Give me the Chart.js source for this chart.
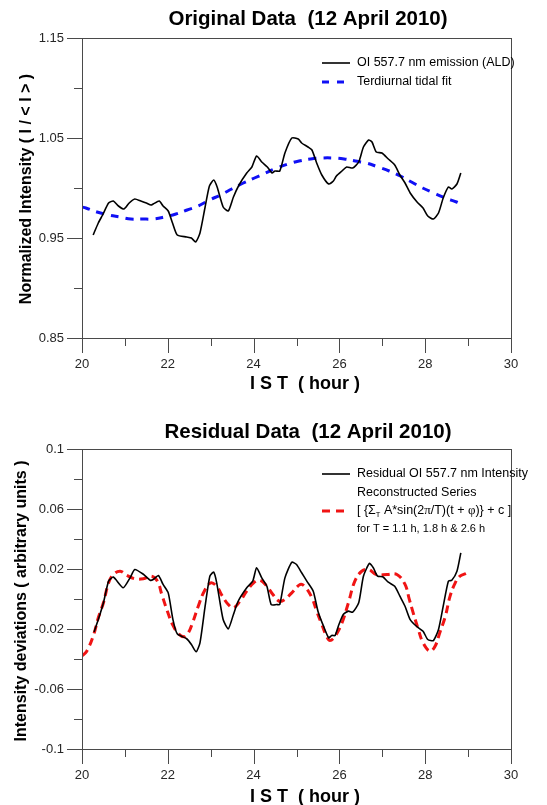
<!DOCTYPE html>
<html>
<head>
<meta charset="utf-8">
<script src="https://cdn.jsdelivr.net/npm/chart.js@4.4.1/dist/chart.umd.min.js"></script>
<style>
  html, body { margin: 0; padding: 0; background: #ffffff; }
  #wrap { position: relative; width: 547px; height: 805px; overflow: hidden; }
  canvas { position: absolute; left: 0; }
</style>
</head>
<body>
<div id="wrap">
  <canvas id="origChart" width="547" height="400" style="top:0px"></canvas>
  <canvas id="resChart" width="547" height="405" style="top:400px"></canvas>
</div>
<script>
// ---- Original OI 557.7 nm intensity (normalized), 12 April 2010 ----
const origHour = [20.26, 20.38, 20.48, 20.62, 20.73, 20.85, 20.98, 21.10, 21.23, 21.37, 21.50, 21.61, 21.66,
  21.80, 21.89, 22.01, 22.11, 22.22, 22.44, 22.55, 22.65, 22.75, 22.87, 22.97, 23.07, 23.15, 23.29, 23.41,
  23.53, 23.66, 23.84, 23.96, 24.07, 24.19, 24.32, 24.43, 24.50, 24.61, 24.73, 24.89, 25.04, 25.12, 25.27,
  25.36, 25.47, 25.59, 25.75, 25.86, 25.93, 26.06, 26.17, 26.31, 26.45, 26.56, 26.68, 26.76, 26.86, 26.99,
  27.14, 27.29, 27.41, 27.53, 27.65, 27.81, 27.95, 28.06, 28.19, 28.31, 28.42, 28.54, 28.62, 28.74, 28.83];
const origIntensity = [0.953, 0.965, 0.973, 0.985, 0.987, 0.982, 0.979, 0.985, 0.989, 0.987, 0.985, 0.983, 0.984,
  0.987, 0.982, 0.977, 0.965, 0.953, 0.951, 0.950, 0.946, 0.955, 0.981, 1.002, 1.008, 1.001, 0.981, 0.977,
  0.991, 1.003, 1.015, 1.021, 1.032, 1.026, 1.021, 1.015, 1.017, 1.017, 1.035, 1.050, 1.049, 1.045, 1.041,
  1.038, 1.025, 1.013, 1.004, 1.007, 1.012, 1.017, 1.021, 1.020, 1.026, 1.041, 1.048, 1.046, 1.036, 1.035,
  1.029, 1.023, 1.013, 1.005, 0.995, 0.986, 0.980, 0.972, 0.969, 0.975, 0.990, 1.001, 0.999, 1.004, 1.015];

// ---- Terdiurnal tidal fit ----
const fitHour = [20.0, 20.09, 20.35, 20.62, 20.88, 21.14, 21.40, 21.66, 21.92, 22.19, 22.45, 22.71, 22.97,
  23.23, 23.49, 23.76, 24.02, 24.28, 24.54, 24.80, 25.06, 25.33, 25.59, 25.85, 26.11, 26.37, 26.63, 26.90,
  27.16, 27.42, 27.68, 27.94, 28.20, 28.47, 28.73, 28.83];
const fitIntensity = [0.981, 0.980, 0.976, 0.973, 0.971, 0.969, 0.969, 0.969, 0.971, 0.974, 0.978, 0.982, 0.988,
  0.993, 0.999, 1.005, 1.010, 1.015, 1.020, 1.024, 1.027, 1.029, 1.030, 1.030, 1.029, 1.027, 1.025, 1.021,
  1.017, 1.012, 1.006, 1.000, 0.995, 0.990, 0.986, 0.984];

// ---- Residual intensity ----
const resHour = [20.28, 20.38, 20.50, 20.62, 20.73, 20.96, 21.12, 21.23, 21.43, 21.59, 21.66, 21.78, 21.89,
  22.01, 22.12, 22.22, 22.44, 22.55, 22.66, 22.75, 22.87, 22.98, 23.07, 23.14, 23.29, 23.41, 23.53, 23.64,
  23.84, 23.98, 24.07, 24.19, 24.31, 24.41, 24.54, 24.61, 24.73, 24.89, 25.00, 25.12, 25.24, 25.39, 25.50,
  25.63, 25.75, 25.82, 25.90, 25.98, 26.09, 26.21, 26.31, 26.45, 26.56, 26.70, 26.79, 26.89, 27.01, 27.14,
  27.29, 27.41, 27.53, 27.65, 27.81, 27.95, 28.06, 28.19, 28.31, 28.42, 28.54, 28.62, 28.74, 28.83];
const resValue = [-0.022, -0.0137, -0.0025, 0.0119, 0.0146, 0.0075, 0.0141, 0.0197, 0.0165, 0.0125, 0.013, 0.0157,
  0.0097, 0.0041, -0.0137, -0.0232, -0.0265, -0.0303, -0.0352, -0.0292, -0.0048, 0.0152, 0.0179, 0.0108,
  -0.0137, -0.0199, -0.0103, -0.0015, 0.0075, 0.0119, 0.0208, 0.0141, 0.0085, -0.0037, -0.0037, -0.0037,
  0.0141, 0.0245, 0.023, 0.0175, 0.0119, 0.0052, -0.0081, -0.0181, -0.0259, -0.0243, -0.0243, -0.0177,
  -0.0103, -0.0081, -0.0088, -0.0025, 0.0152, 0.0237, 0.0208, 0.0152, 0.0148, 0.0112, 0.0085, 0.0019,
  -0.0048, -0.0137, -0.0185, -0.0215, -0.027, -0.0277, -0.0203, -0.0048, 0.0119, 0.0125, 0.0185, 0.0308];

// ---- Reconstructed series (T = 1.1 h, 1.8 h & 2.6 h) ----
const reconHour = [20.0, 20.11, 20.26, 20.38, 20.50, 20.62, 20.73, 20.89, 21.05, 21.23, 21.43, 21.62, 21.76,
  21.86, 21.99, 22.11, 22.25, 22.39, 22.48, 22.59, 22.71, 22.85, 23.00, 23.14, 23.25, 23.41, 23.53, 23.68,
  23.84, 24.00, 24.15, 24.31, 24.45, 24.60, 24.73, 24.89, 25.09, 25.20, 25.36, 25.47, 25.59, 25.70, 25.78,
  25.90, 26.06, 26.21, 26.36, 26.52, 26.68, 26.86, 27.11, 27.34, 27.53, 27.63, 27.72, 27.84, 27.95, 28.11,
  28.23, 28.34, 28.47, 28.58, 28.70, 28.81, 28.95];
const reconValue = [-0.038, -0.0348, -0.0248, -0.0125, -0.0025, 0.0108, 0.0163, 0.0185, 0.0157, 0.0135, 0.0135,
  0.0152, 0.0119, 0.003, -0.0081, -0.017, -0.0232, -0.0252, -0.0225, -0.0148, -0.0048, 0.0052, 0.0108,
  0.0085, 0.003, -0.0037, -0.0059, -0.0015, 0.0052, 0.0108, 0.0125, 0.0085, 0.003, -0.0015, -0.0003,
  0.0041, 0.0097, 0.0081, 0.0008, -0.0081, -0.017, -0.0248, -0.0277, -0.0248, -0.0159, -0.0025, 0.0119,
  0.0185, 0.0197, 0.0163, 0.0163, 0.0163, 0.0097, -0.0003, -0.0092, -0.0203, -0.0292, -0.0348, -0.0315,
  -0.0225, -0.0115, 0.0019, 0.0108, 0.0152, 0.017];

// ---- Axis ticks ----
const hourTicks = [20, 22, 24, 26, 28, 30];
const origTicks = ['0.85', '0.95', '1.05', '1.15'];
const resTicks = ['-0.1', '-0.06', '-0.02', '0.02', '0.06', '0.1'];

const FONT = '"Liberation Sans", Arial, Helvetica, sans-serif';
const AXIS_COLOR = '#4a4a4a';
const LABEL_COLOR = '#262626';

const toPoints = (xs, ys) => xs.map((x, i) => ({ x: x, y: ys[i] }));

function xAxis(height) {
  return {
    type: 'linear', min: 20, max: 30,
    afterFit(s) { s.height = height; },
    grid: { display: false, drawTicks: false },
    border: { display: false },
    ticks: {
      stepSize: 1, autoSkip: false, maxRotation: 0, padding: 19,
      color: LABEL_COLOR, font: { family: FONT, size: 13 },
      callback: v => (hourTicks.includes(v) ? String(v) : '')
    }
  };
}

function yAxis(min, max, step, labels) {
  return {
    type: 'linear', min: min, max: max,
    afterFit(s) { s.width = 82; },
    grid: { display: false, drawTicks: false },
    border: { display: false },
    ticks: {
      stepSize: step, autoSkip: false, padding: 18,
      color: LABEL_COLOR, font: { family: FONT, size: 13 },
      callback: v => {
        const txt = labels.find(l => Math.abs(parseFloat(l) - v) < 1e-6);
        return txt === undefined ? '' : txt;
      }
    }
  };
}

// Frame, tick marks, titles and legend drawn on top of each panel
function panelDecor(cfg) {
  return {
    id: 'panelDecor',
    afterDraw(chart) {
      const { ctx, chartArea: a } = chart;
      const xs = chart.scales.x, ys = chart.scales.y;
      ctx.save();
      ctx.strokeStyle = AXIS_COLOR;
      ctx.lineWidth = 1;
      ctx.setLineDash([]);
      ctx.strokeRect(Math.round(a.left) + 0.5, Math.round(a.top) + 0.5,
        Math.round(a.right - a.left), Math.round(a.bottom - a.top));

      xs.ticks.forEach(t => {
        const px = Math.round(xs.getPixelForValue(t.value)) + 0.5;
        const len = hourTicks.includes(t.value) ? 15 : 8;
        ctx.beginPath();
        ctx.moveTo(px, a.bottom);
        ctx.lineTo(px, a.bottom + len);
        ctx.stroke();
      });
      ys.ticks.forEach(t => {
        const py = Math.round(ys.getPixelForValue(t.value)) + 0.5;
        const len = t.label !== '' ? 15 : 8;
        ctx.beginPath();
        ctx.moveTo(a.left - len, py);
        ctx.lineTo(a.left, py);
        ctx.stroke();
      });

      ctx.fillStyle = '#000';
      ctx.textAlign = 'center';
      ctx.textBaseline = 'middle';
      ctx.font = 'bold 20.5px ' + FONT;
      ctx.fillText(cfg.title, 308, cfg.titleY);
      ctx.font = 'bold 18px ' + FONT;
      ctx.fillText('I S T  ( hour )', 305, cfg.xTitleY);

      ctx.save();
      ctx.translate(cfg.yTitleX, (a.top + a.bottom) / 2 + cfg.yTitleShift);
      ctx.rotate(-Math.PI / 2);
      ctx.font = 'bold 16px ' + FONT;
      ctx.fillText(cfg.yTitle, 0, 0);
      ctx.restore();

      // legend
      ctx.textAlign = 'left';
      cfg.legend.forEach(item => {
        if (item.sample) {
          ctx.strokeStyle = item.sample.color;
          ctx.lineWidth = item.sample.width;
          ctx.setLineDash(item.sample.dash);
          ctx.beginPath();
          ctx.moveTo(322, item.y);
          ctx.lineTo(350, item.y);
          ctx.stroke();
          ctx.setLineDash([]);
        }
        let x = 357;
        item.parts.forEach(p => {
          ctx.font = p.size + 'px ' + (p.serif ? '"Liberation Serif", serif' : FONT);
          ctx.fillStyle = '#000';
          ctx.fillText(p.text, x, item.y + (p.dy || 0));
          x += ctx.measureText(p.text).width;
        });
      });
      ctx.restore();
    }
  };
}

new Chart(document.getElementById('origChart'), {
  type: 'line',
  data: {
    datasets: [
      {
        label: 'OI 557.7 nm emission (ALD)',
        data: toPoints(origHour, origIntensity),
        borderColor: '#000000', borderWidth: 1.6, pointRadius: 0, tension: 0.2, fill: false
      },
      {
        label: 'Terdiurnal tidal fit',
        data: toPoints(fitHour, fitIntensity),
        borderColor: '#1010f5', borderWidth: 3, borderDash: [8, 7], pointRadius: 0, tension: 0.4, fill: false
      }
    ]
  },
  options: {
    responsive: false, animation: false, devicePixelRatio: 1,
    layout: { padding: { top: 38, right: 36, left: 0, bottom: 0 } },
    plugins: { legend: { display: false }, tooltip: { enabled: false }, title: { display: false } },
    scales: { x: xAxis(62), y: yAxis(0.85, 1.15, 0.05, origTicks) }
  },
  plugins: [panelDecor({
    title: 'Original Data  (12 April 2010)', titleY: 19, xTitleY: 384,
    yTitle: 'Normalized Intensity ( I / < I > )', yTitleX: 27, yTitleShift: 1,
    legend: [
      { y: 63, sample: { color: '#000', width: 1.6, dash: [] }, parts: [{ text: 'OI 557.7 nm emission (ALD)', size: 12.5 }] },
      { y: 82, sample: { color: '#1010f5', width: 3, dash: [7, 8] }, parts: [{ text: 'Terdiurnal tidal fit', size: 12.5 }] }
    ]
  })]
});

new Chart(document.getElementById('resChart'), {
  type: 'line',
  data: {
    datasets: [
      {
        label: 'Residual OI 557.7 nm Intensity',
        data: toPoints(resHour, resValue),
        borderColor: '#000000', borderWidth: 1.6, pointRadius: 0, tension: 0.2, fill: false
      },
      {
        label: 'Reconstructed Series',
        data: toPoints(reconHour, reconValue),
        borderColor: '#f01414', borderWidth: 3, borderDash: [8, 5], pointRadius: 0, tension: 0.4, fill: false
      }
    ]
  },
  options: {
    responsive: false, animation: false, devicePixelRatio: 1,
    layout: { padding: { top: 49, right: 36, left: 0, bottom: 0 } },
    plugins: { legend: { display: false }, tooltip: { enabled: false }, title: { display: false } },
    scales: { x: xAxis(56), y: yAxis(-0.1, 0.1, 0.02, resTicks) }
  },
  plugins: [panelDecor({
    title: 'Residual Data  (12 April 2010)', titleY: 32, xTitleY: 397,
    yTitle: 'Intensity deviations ( arbitrary units )', yTitleX: 22, yTitleShift: 2,
    legend: [
      { y: 74, sample: { color: '#000', width: 1.6, dash: [] }, parts: [{ text: 'Residual OI 557.7 nm Intensity', size: 12.5 }] },
      { y: 93, parts: [{ text: 'Reconstructed Series', size: 12.5 }] },
      { y: 111, sample: { color: '#f01414', width: 3, dash: [8, 6] }, parts: [
        { text: '[ {Σ', size: 12.5 },
        { text: 'T', size: 7.5, dy: 4 },
        { text: ' A*sin(2', size: 12.5 },
        { text: 'π', size: 13, serif: true },
        { text: '/T)(t + ', size: 12.5 },
        { text: 'φ', size: 13, serif: true },
        { text: ')} + c ]', size: 12.5 }
      ] },
      { y: 129, parts: [{ text: 'for T = 1.1 h, 1.8 h & 2.6 h', size: 11 }] }
    ]
  })]
});
</script>
</body>
</html>
